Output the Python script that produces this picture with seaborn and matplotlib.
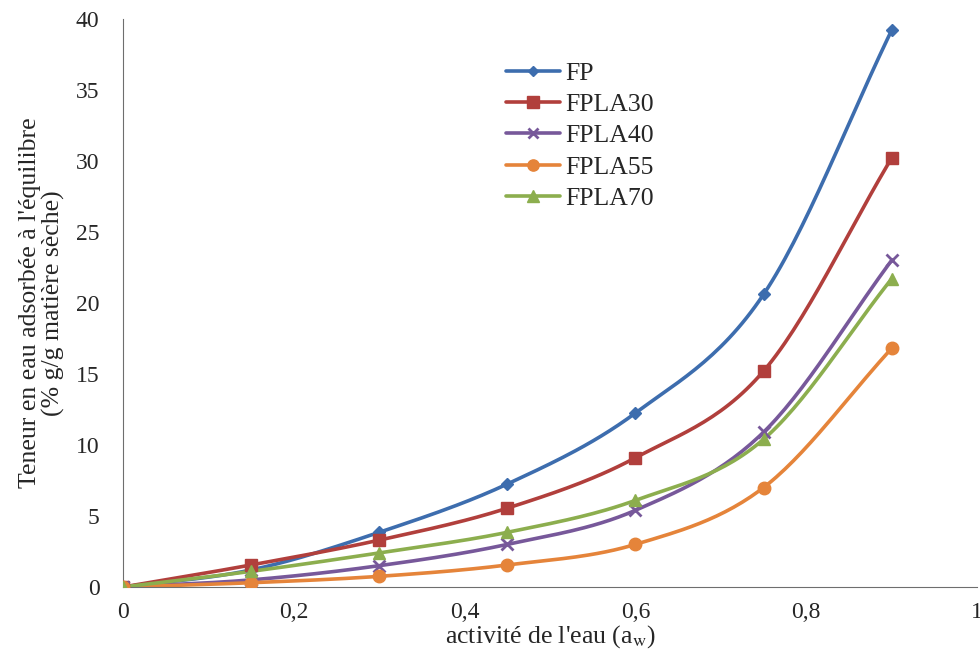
import numpy as np
import pandas as pd
import matplotlib
matplotlib.use("Agg")
import matplotlib.pyplot as plt
import seaborn as sns

# activité de l'eau
aw = [0, 0.15, 0.3, 0.45, 0.6, 0.75, 0.9]

# teneur en eau (% g/g MS)
fp = [0, 1.2, 3.85, 7.25, 12.25, 20.6, 39.2]
fpla30 = [0, 1.55, 3.3, 5.55, 9.1, 15.2, 30.2]
fpla40 = [0, 0.5, 1.5, 3.0, 5.4, 10.9, 23.0]
fpla55 = [0, 0.3, 0.75, 1.55, 3.0, 7.0, 16.8]
fpla70 = [0, 1.1, 2.4, 3.85, 6.1, 10.4, 21.7]

series = ["FP", "FPLA30", "FPLA40", "FPLA55", "FPLA70"]
values = [fp, fpla30, fpla40, fpla55, fpla70]
colors = ["#3D6DAE", "#B13F3C", "#77589A", "#E5843A", "#8CAE4E"]
markers = ["D", "s", "x", "o", "^"]
msizes = [6, 9, 8, 9, 9]


# lissage type Excel (Catmull-Rom)
def smooth(x, y, n=30):
    x = np.asarray(x, float)
    y = np.asarray(y, float)
    px = np.concatenate([[2 * x[0] - x[1]], x, [2 * x[-1] - x[-2]]])
    py = np.concatenate([[2 * y[0] - y[1]], y, [2 * y[-1] - y[-2]]])
    xs, ys = [], []
    for i in range(1, len(px) - 2):
        t = np.linspace(0, 1, n, endpoint=False)
        for arr, out in ((px, xs), (py, ys)):
            p0, p1, p2, p3 = arr[i - 1], arr[i], arr[i + 1], arr[i + 2]
            b1 = p1 + (p2 - p0) / 6
            b2 = p2 - (p3 - p1) / 6
            out.extend((1 - t) ** 3 * p1 + 3 * (1 - t) ** 2 * t * b1 + 3 * (1 - t) * t ** 2 * b2 + t ** 3 * p2)
    xs.append(x[-1])
    ys.append(y[-1])
    return np.array(xs), np.array(ys)


sns.set_style("white")
plt.rcParams["font.family"] = ["Liberation Serif", "DejaVu Serif"]
plt.rcParams["mathtext.fontset"] = "stix"

fig = plt.figure(figsize=(9.8, 6.56), dpi=100)
ax = fig.add_axes([0.1255, 0.1052, 0.8715, 0.866])

for name, vals, c, m, ms in zip(series, values, colors, markers, msizes):
    sx, sy = smooth(aw, vals)
    ax.plot(sx, sy, color=c, lw=2.6, zorder=2)
    ax.plot(aw, vals, ls="none", marker=m, color=c, ms=ms, mew=2 if m == "x" else 1, zorder=3)
    # handle pour la légende
    ax.plot([], [], color=c, lw=2.6, marker=m, ms=ms * 0.9, mew=2 if m == "x" else 1, label=name)

ax.set_xlim(0, 1)
ax.set_ylim(0, 40)
ax.set_xticks(np.arange(0, 1.01, 0.2))
ax.set_xticklabels(["0", "0,2", "0,4", "0,6", "0,8", "1"])
ax.set_yticks(np.arange(0, 41, 5))
ax.tick_params(axis="both", direction="out", length=6, width=1, color="#6e6e6e", labelsize=17, pad=5)
ax.tick_params(axis="y", pad=11)

sns.despine(ax=ax, top=True, right=True)
ax.spines["left"].set_color("#6e6e6e")
ax.spines["bottom"].set_color("#6e6e6e")

ax.set_xlabel("activité de l'eau (a$_\\mathrm{w}$)", fontsize=18.5, labelpad=0)
ax.set_ylabel("Teneur en eau adsorbée à l'équilibre\n(% g/g matière sèche)", fontsize=18.5, labelpad=8, linespacing=1.05)

ax.legend(loc="upper left", bbox_to_anchor=(0.4216, 0.965), frameon=False, fontsize=18.5,
          handlelength=2.1, labelspacing=0.32, handletextpad=0.2)

fig.savefig("out.png", dpi=100)
